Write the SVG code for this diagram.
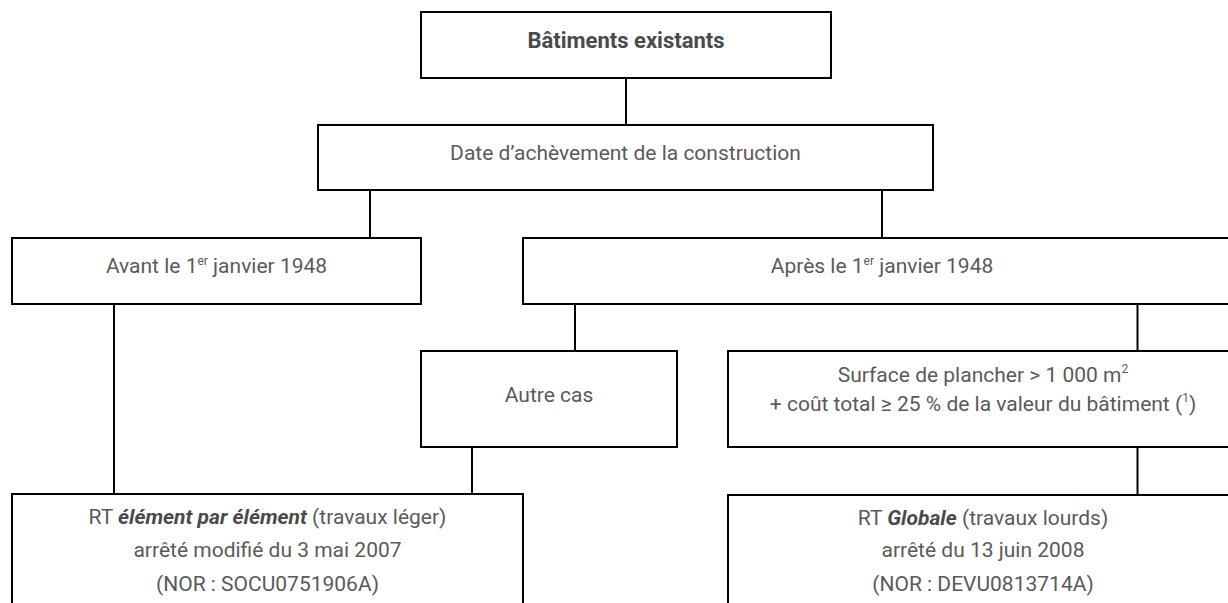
<svg xmlns="http://www.w3.org/2000/svg" width="1228" height="603" viewBox="0 0 1228 603">
  <style>
    .box { fill: #ffffff; stroke: #000000; stroke-width: 2; }
    .conn { stroke: #000000; stroke-width: 2; fill: none; }
    .t { font-family: Roboto, "Liberation Sans", sans-serif; font-size: 21px; fill: #5a5a5a; text-anchor: middle; }
    .b { font-weight: bold; fill: #4a4a4a; font-size: 22px; }
    .bi { font-weight: bold; font-style: italic; fill: #4a4a4a; }
    .sup { font-size: 12px; }
  </style>
  <rect x="0" y="0" width="1228" height="603" fill="#ffffff"/>

  <g id="connectors">
    <line class="conn" x1="626" y1="78" x2="626" y2="125"/>
    <line class="conn" x1="370" y1="190" x2="370" y2="238"/>
    <line class="conn" x1="882" y1="190" x2="882" y2="238"/>
    <line class="conn" x1="575" y1="304" x2="575" y2="351"/>
    <line class="conn" x1="1137.5" y1="304" x2="1137.5" y2="351"/>
    <line class="conn" x1="114" y1="304" x2="114" y2="494"/>
    <line class="conn" x1="472" y1="447" x2="472" y2="494"/>
    <line class="conn" x1="1137.5" y1="447" x2="1137.5" y2="495"/>
  </g>

  <g id="node-batiments">
    <rect class="box" x="421" y="12" width="410" height="66"/>
    <text class="t b" x="626" y="48">Bâtiments existants</text>
  </g>

  <g id="node-date">
    <rect class="box" x="318" y="125" width="615" height="65"/>
    <text class="t" x="625.5" y="160">Date d’achèvement de la construction</text>
  </g>

  <g id="node-avant">
    <rect class="box" x="12" y="238" width="409" height="66"/>
    <text class="t" x="216.5" y="273">Avant le 1<tspan class="sup" dy="-8">er</tspan><tspan dy="8"> janvier 1948</tspan></text>
  </g>

  <g id="node-apres">
    <rect class="box" x="523" y="238" width="718" height="66"/>
    <text class="t" x="882" y="273">Après le 1<tspan class="sup" dy="-8">er</tspan><tspan dy="8"> janvier 1948</tspan></text>
  </g>

  <g id="node-autre">
    <rect class="box" x="421" y="351" width="256" height="96"/>
    <text class="t" x="549" y="402">Autre cas</text>
  </g>

  <g id="node-surface">
    <rect class="box" x="728" y="351" width="510" height="96"/>
    <text class="t" x="983" y="382">Surface de plancher &gt; 1 000 m<tspan class="sup" dy="-9">2</tspan></text>
    <text class="t" x="983" y="411">+ coût total ≥ 25 % de la valeur du bâtiment (<tspan class="sup" dy="-9">1</tspan><tspan dy="9">)</tspan></text>
  </g>

  <g id="node-rt-element">
    <rect class="box" x="12" y="494" width="511" height="130"/>
    <text class="t" x="267.5" y="524">RT <tspan class="bi">élément par élément</tspan> (travaux léger)</text>
    <text class="t" x="267.5" y="557">arrêté modifié du 3 mai 2007</text>
    <text class="t" x="267.5" y="591">(NOR : SOCU0751906A)</text>
  </g>

  <g id="node-rt-globale">
    <rect class="box" x="728" y="495" width="510" height="130"/>
    <text class="t" x="983" y="525">RT <tspan class="bi">Globale</tspan> (travaux lourds)</text>
    <text class="t" x="983" y="557">arrêté du 13 juin 2008</text>
    <text class="t" x="983" y="591">(NOR : DEVU0813714A)</text>
  </g>
</svg>
